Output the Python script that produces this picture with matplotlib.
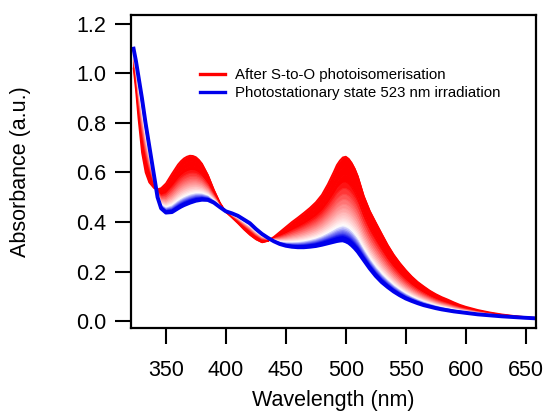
import numpy as np
import matplotlib
matplotlib.use("Agg")
import matplotlib.pyplot as plt
from matplotlib.colors import LinearSegmentedColormap

plt.rcParams['font.family'] = ['Liberation Sans', 'DejaVu Sans']

wavelength = [323, 325, 327, 330, 333, 336, 340, 343, 346, 350, 355, 360, 362.5, 365, 367.5,
              370, 372.5, 375, 377.5, 380, 385, 390, 395, 400, 405, 410, 415, 420, 425, 430,
              435, 440, 445, 450, 455, 460, 465, 470, 475, 480, 485, 490, 492.5, 495, 497.5,
              500, 502.5, 505, 507.5, 510, 515, 520, 525, 530, 535, 540, 545, 550, 555, 560,
              565, 570, 575, 580, 585, 590, 595, 600, 610, 620, 630, 640, 650, 658]

after_s_to_o = [1.02, 0.93, 0.82, 0.68, 0.60, 0.56, 0.537, 0.532, 0.537, 0.556, 0.595, 0.632,
                0.646, 0.657, 0.664, 0.668, 0.667, 0.662, 0.651, 0.636, 0.590, 0.530, 0.478,
                0.440, 0.418, 0.395, 0.370, 0.348, 0.330, 0.318, 0.324, 0.340, 0.360, 0.380,
                0.400, 0.418, 0.437, 0.457, 0.480, 0.510, 0.553, 0.603, 0.630, 0.648, 0.661,
                0.664, 0.655, 0.638, 0.615, 0.585, 0.505, 0.445, 0.398, 0.352, 0.307, 0.268,
                0.235, 0.206, 0.180, 0.158, 0.140, 0.123, 0.109, 0.097, 0.087, 0.076, 0.066,
                0.058, 0.045, 0.035, 0.027, 0.021, 0.016, 0.013]

pss_523 = [1.10, 1.05, 0.99, 0.90, 0.80, 0.71, 0.59, 0.50, 0.455, 0.438, 0.440, 0.455,
           0.462, 0.468, 0.473, 0.478, 0.482, 0.486, 0.488, 0.490, 0.489, 0.478, 0.460,
           0.443, 0.435, 0.425, 0.410, 0.395, 0.372, 0.352, 0.336, 0.322, 0.311, 0.304,
           0.300, 0.298, 0.298, 0.300, 0.303, 0.308, 0.314, 0.320, 0.323, 0.325, 0.326,
           0.322, 0.316, 0.306, 0.294, 0.280, 0.246, 0.212, 0.182, 0.157, 0.137, 0.119,
           0.104, 0.091, 0.081, 0.072, 0.064, 0.058, 0.052, 0.047, 0.043, 0.039, 0.036,
           0.033, 0.027, 0.023, 0.019, 0.016, 0.013, 0.011]

# fraction of conversion for each recorded spectrum during 523 nm irradiation
conversion = [0.0, 0.110, 0.209, 0.297, 0.376, 0.446, 0.509, 0.565, 0.616, 0.660, 0.700,
              0.736, 0.768, 0.796, 0.822, 0.845, 0.865, 0.883, 0.899, 0.914, 0.927, 0.938,
              0.948, 0.958, 0.966, 0.973, 0.980, 0.986, 0.991, 0.996, 1.0]

labels = ["After S-to-O photoisomerisation", "Photostationary state 523 nm irradiation"]
xticks = [350, 400, 450, 500, 550, 600, 650]
yticks = [0.0, 0.2, 0.4, 0.6, 0.8, 1.0, 1.2]

red = (1.0, 0.0, 0.0)
blue = (0.0, 0.0, 0.92)
cmap = LinearSegmentedColormap.from_list(
    "rwb", [(0.0, red), (0.3, red), (0.82, (1, 1, 1)), (0.96, blue), (1.0, blue)])

wl = np.array(wavelength, dtype=float)
A0 = np.array(after_s_to_o)
A1 = np.array(pss_523)
spectra = [A0 + f * (A1 - A0) for f in conversion]

fig = plt.figure(figsize=(5.5, 4.13), dpi=100)
ax = fig.add_axes([0.2376, 0.2065, 0.7369, 0.7572])

for i in range(len(spectra) - 1):
    fm = 0.5 * (conversion[i] + conversion[i + 1])
    c = cmap(fm)
    ax.fill_between(wl, spectra[i], spectra[i + 1], color=c, lw=0.6, ec=c)
for i, s in enumerate(spectra[1:-1], start=1):
    ax.plot(wl, s, color=cmap(conversion[i]), lw=0.8)

ax.plot(wl, A0, color=red, lw=1.2, label=labels[0])
ax.plot(wl, A1, color=blue, lw=2.8, label=labels[1])

ax.set_xlim(320.6, 658.6)
ax.set_ylim(-0.027, 1.236)
ax.set_xticks(xticks)
ax.set_yticks(yticks)
ax.set_yticklabels([f"{v:.1f}" for v in yticks])
ax.tick_params(axis='both', direction='out', length=11.5, width=1.5, labelsize=15.5, colors='black')
ax.tick_params(axis='x', pad=12)
ax.tick_params(axis='y', pad=6)
for sp in ax.spines.values():
    sp.set_linewidth(1.6)

ax.set_xlabel("Wavelength (nm)", fontsize=15.5)
ax.set_ylabel("Absorbance (a.u.)", fontsize=15.5)
ax.xaxis.set_label_coords(0.5, -0.2)
ax.yaxis.set_label_coords(-0.245, 0.5)

leg = ax.legend(loc='upper left', bbox_to_anchor=(0.171, 0.83), frameon=False, fontsize=10.8,
                handlelength=1.67, handletextpad=0.67, labelspacing=0.25, borderpad=0,
                borderaxespad=0)
for h in leg.get_lines():
    h.set_linewidth(2.4)

fig.savefig("out.png", dpi=100)
